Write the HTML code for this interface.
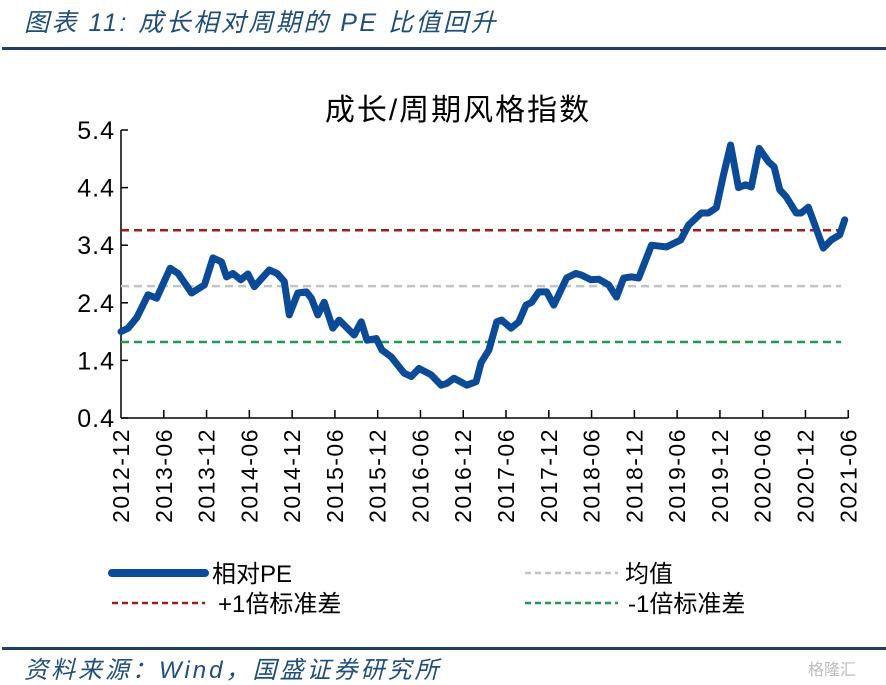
<!DOCTYPE html>
<html><head><meta charset="utf-8"><style>
body{margin:0;background:#fff;width:886px;height:682px;overflow:hidden;position:relative;font-family:"Liberation Sans","Noto Sans CJK SC",sans-serif}
.t{position:absolute;white-space:nowrap}
</style></head><body>
<div class="t" style="left:24px;top:3px;font-size:25px;font-style:italic;color:#1f4e79;letter-spacing:2.5px">图表 11:  成长相对周期的 PE 比值回升</div>
<div style="position:absolute;left:2px;top:47px;width:884px;height:3px;background:#1f3f6b"></div>
<svg id="chart" width="886" height="682" style="position:absolute;left:0;top:0"></svg>
<div style="position:absolute;left:2px;top:647px;width:884px;height:3px;background:#1f3f6b"></div>
<div class="t" style="left:24px;top:650px;font-size:24px;font-style:italic;color:#1f4e79;letter-spacing:3px">资料来源：Wind，国盛证券研究所</div>
<div class="t" style="left:808px;top:656px;font-size:16px;color:#bbb">格隆汇</div>
<script>
const months=[0,1.0,2.2,3.8,5.0,6.9,8.0,9.9,11.7,12.9,14.1,14.8,15.7,16.8,17.8,18.7,20.8,21.9,22.9,23.6,24.8,26.0,26.7,27.6,28.5,29.7,30.6,32.7,33.7,34.5,35.8,36.6,37.9,39.7,40.7,41.8,43.5,44.9,45.7,46.7,48.5,49.8,50.5,51.6,52.7,53.4,54.7,55.8,56.8,57.6,58.6,59.7,60.7,62.5,63.8,64.6,65.9,67.0,68.4,69.5,70.5,71.6,72.6,74.4,76.5,78.5,79.6,81.4,82.4,83.5,84.5,85.5,86.6,87.6,88.4,89.5,90.8,91.6,92.4,93.3,94.7,95.4,96.4,98.5,99.6,100.8,101.5];
const values=[1.90,1.96,2.14,2.54,2.48,3.0,2.91,2.57,2.71,3.18,3.11,2.85,2.91,2.80,2.9,2.68,2.97,2.91,2.77,2.19,2.57,2.59,2.48,2.19,2.41,1.96,2.10,1.84,2.07,1.75,1.78,1.58,1.46,1.18,1.12,1.26,1.15,0.97,1.0,1.09,0.97,1.03,1.36,1.58,2.07,2.10,1.96,2.07,2.36,2.41,2.59,2.59,2.36,2.83,2.91,2.88,2.80,2.81,2.71,2.50,2.83,2.85,2.83,3.40,3.37,3.49,3.75,3.96,3.96,4.05,4.62,5.14,4.40,4.45,4.41,5.08,4.85,4.76,4.36,4.24,3.96,3.96,4.06,3.35,3.49,3.58,3.84];
const meanVal=2.69, plusSd=3.66, minusSd=1.72;
const yTicks=[0.4,1.4,2.4,3.4,4.4,5.4];
const xLabels=["2012-12","2013-06","2013-12","2014-06","2014-12","2015-06","2015-12","2016-06","2016-12","2017-06","2017-12","2018-06","2018-12","2019-06","2019-12","2020-06","2020-12","2021-06"];
const svg=document.getElementById('chart');const NS='http://www.w3.org/2000/svg';
const X0=121,XS=7.13,Y0=418,YS=57.6;
const xs=m=>X0+m*XS, ys=v=>Y0-(v-0.4)*YS;
function mk(t,a,p){const e=document.createElementNS(NS,t);for(const k in a)e.setAttribute(k,a[k]);(p||svg).appendChild(e);return e;}
let e=mk('text',{x:458,y:120,'font-size':30,'text-anchor':'middle',fill:'#000','letter-spacing':2,'font-family':'"Liberation Sans","Noto Sans CJK SC",sans-serif'});e.textContent='成长/周期风格指数';


e=mk('line',{x1:X0,y1:ys(5.4),x2:X0,y2:Y0,stroke:'#000','stroke-width':1.5});


e=mk('line',{x1:X0,y1:Y0,x2:xs(102),y2:Y0,stroke:'#000','stroke-width':1.5});


yTicks.forEach(v=>{mk('line',{x1:X0,y1:ys(v),x2:X0+7,y2:ys(v),stroke:'#000','stroke-width':1.5});
const t=mk('text',{x:X0-6,y:ys(v)+9,'font-size':25,'text-anchor':'end',fill:'#000','letter-spacing':1});t.textContent=v.toFixed(1);

});
xLabels.forEach((l,i)=>{const x=xs(i*6);if(i>0)mk('line',{x1:x,y1:Y0,x2:x,y2:Y0-8,stroke:'#000','stroke-width':1.5});
const t=mk('text',{x:0,y:0,'font-size':23,'text-anchor':'end',fill:'#000','letter-spacing':1.5,transform:`translate(${x+8},${Y0+10}) rotate(-90)`});t.textContent=l;

});
[[plusSd,'#a01c1c','plus-1sd-line'],[meanVal,'#c4c4c4','mean-line'],[minusSd,'#1f9a55','minus-1sd-line']].forEach(([v,c,n])=>{
const l=mk('line',{x1:X0,y1:ys(v),x2:xs(101),y2:ys(v),stroke:c,'stroke-width':2.5,'stroke-dasharray':'8,5'});

});
const p=mk('polyline',{points:months.map((m,i)=>xs(m)+','+ys(values[i])).join(' '),fill:'none',stroke:'#0b4a96','stroke-width':7,'stroke-linejoin':'round','stroke-linecap':'round'});


const leg=[[112,573,'#0b4a96',8,'none','相对PE',212,'legend-relative-pe'],[525,573,'#c4c4c4',2.5,'6,4','均值',625,'legend-mean'],[112,603,'#a01c1c',2.5,'6,4','+1倍标准差',218,'legend-plus-1sd'],[525,603,'#1f9a55',2.5,'6,4','-1倍标准差',628,'legend-minus-1sd']];
leg.forEach(([x,y,c,w,d,txt,tx,n])=>{const g=mk('g',{});


mk('line',{x1:x,y1:y,x2:x+93,y2:y,stroke:c,'stroke-width':w,'stroke-dasharray':d,'stroke-linecap':w>5?'round':'butt'},g);
const t=mk('text',{x:tx,y:y+9,'font-size':24,fill:'#000'},g);t.textContent=txt;});
</script>
</body></html>
